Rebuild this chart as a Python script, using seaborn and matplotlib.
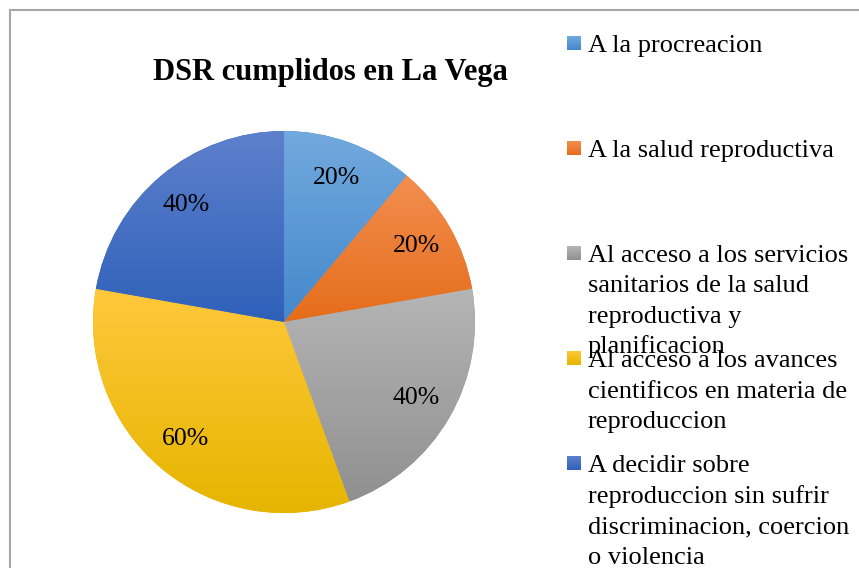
import numpy as np
import matplotlib
matplotlib.use("Agg")
import matplotlib.pyplot as plt
import matplotlib.colors as mcolors
from matplotlib.patches import Rectangle
import seaborn as sns

# datos del grafico
categorias = [
    "A la procreacion",
    "A la salud reproductiva",
    "Al acceso a los servicios\nsanitarios de la salud\nreproductiva y\nplanificacion",
    "Al acceso a los avances\ncientificos en materia de\nreproduccion",
    "A decidir sobre\nreproduccion sin sufrir\ndiscriminacion, coercion\no violencia",
]
valores = [20, 20, 40, 60, 40]
titulo = "DSR cumplidos en La Vega"

# colores (arriba, abajo) de cada degradado
color_arriba = ["#72A9DE", "#F38E50", "#B5B5B5", "#FFC83C", "#5E80CC"]
color_abajo = ["#4488CC", "#E56D1A", "#909090", "#E6B500", "#2F61BA"]

sns.set_theme(style="white")
plt.rcParams["font.family"] = ["Liberation Serif", "DejaVu Serif"]

W, H = 859, 568
fig = plt.figure(figsize=(W / 100, H / 100), dpi=100)
fig.patch.set_facecolor("white")

# marco gris del area del grafico
fig.add_artist(Rectangle((9.5 / W, -0.1), 1.2, (H - 10) / H + 0.1,
                         transform=fig.transFigure, fill=False,
                         edgecolor="#A6A6A6", linewidth=1.5))

# pastel
cx, cy, r = 284, 322, 191
ax = fig.add_axes([(cx - r) / W, (H - cy - r) / H, 2 * r / W, 2 * r / H])
total = sum(valores)
wedges, textos, pcts = ax.pie(
    valores, startangle=90, counterclock=False, radius=1,
    colors=color_abajo, pctdistance=0.8,
    autopct=lambda p: f"{p * total / 100:.0f}%",
    wedgeprops=dict(linewidth=0),
    textprops=dict(fontsize=18.5, color="black"),
)
ax.set_aspect("auto")
ax.axis("off")

# degradado vertical dentro de cada porcion
for w, c1, c2 in zip(wedges, color_arriba, color_abajo):
    bb = w.get_path().get_extents(w.get_patch_transform())
    cmap = mcolors.LinearSegmentedColormap.from_list("g", [c2, c1])
    grad = np.linspace(0, 1, 256).reshape(-1, 1)
    im = ax.imshow(grad, cmap=cmap, origin="lower", aspect="auto",
                   extent=[bb.x0, bb.x1, bb.y0, bb.y1], zorder=1.5)
    im.set_clip_path(w)
for t in pcts:
    t.set_zorder(3)
ax.set_xlim(-1, 1)
ax.set_ylim(-1, 1)

# titulo
fig.text(330 / W, 1 - 80 / H, titulo, ha="center", va="baseline",
         fontsize=22, fontweight="bold", color="black")

# leyenda manual (como en el original, entradas con separacion fija)
base0, paso, interlinea = 52, 105, 30.5
for i, (cat, c1, c2) in enumerate(zip(categorias, color_arriba, color_abajo)):
    base = base0 + i * paso
    sq = 14
    y_top = base - 9 - sq / 2
    cmap = mcolors.LinearSegmentedColormap.from_list("g", [c2, c1])
    lax = fig.add_axes([567 / W, (H - y_top - sq) / H, sq / W, sq / H])
    lax.imshow(np.linspace(0, 1, 32).reshape(-1, 1), cmap=cmap,
               origin="lower", aspect="auto")
    lax.axis("off")
    for j, linea in enumerate(cat.split("\n")):
        fig.text(588 / W, 1 - (base + j * interlinea) / H, linea,
                 ha="left", va="baseline", fontsize=19, color="black")

fig.savefig("out.png", dpi=100)
